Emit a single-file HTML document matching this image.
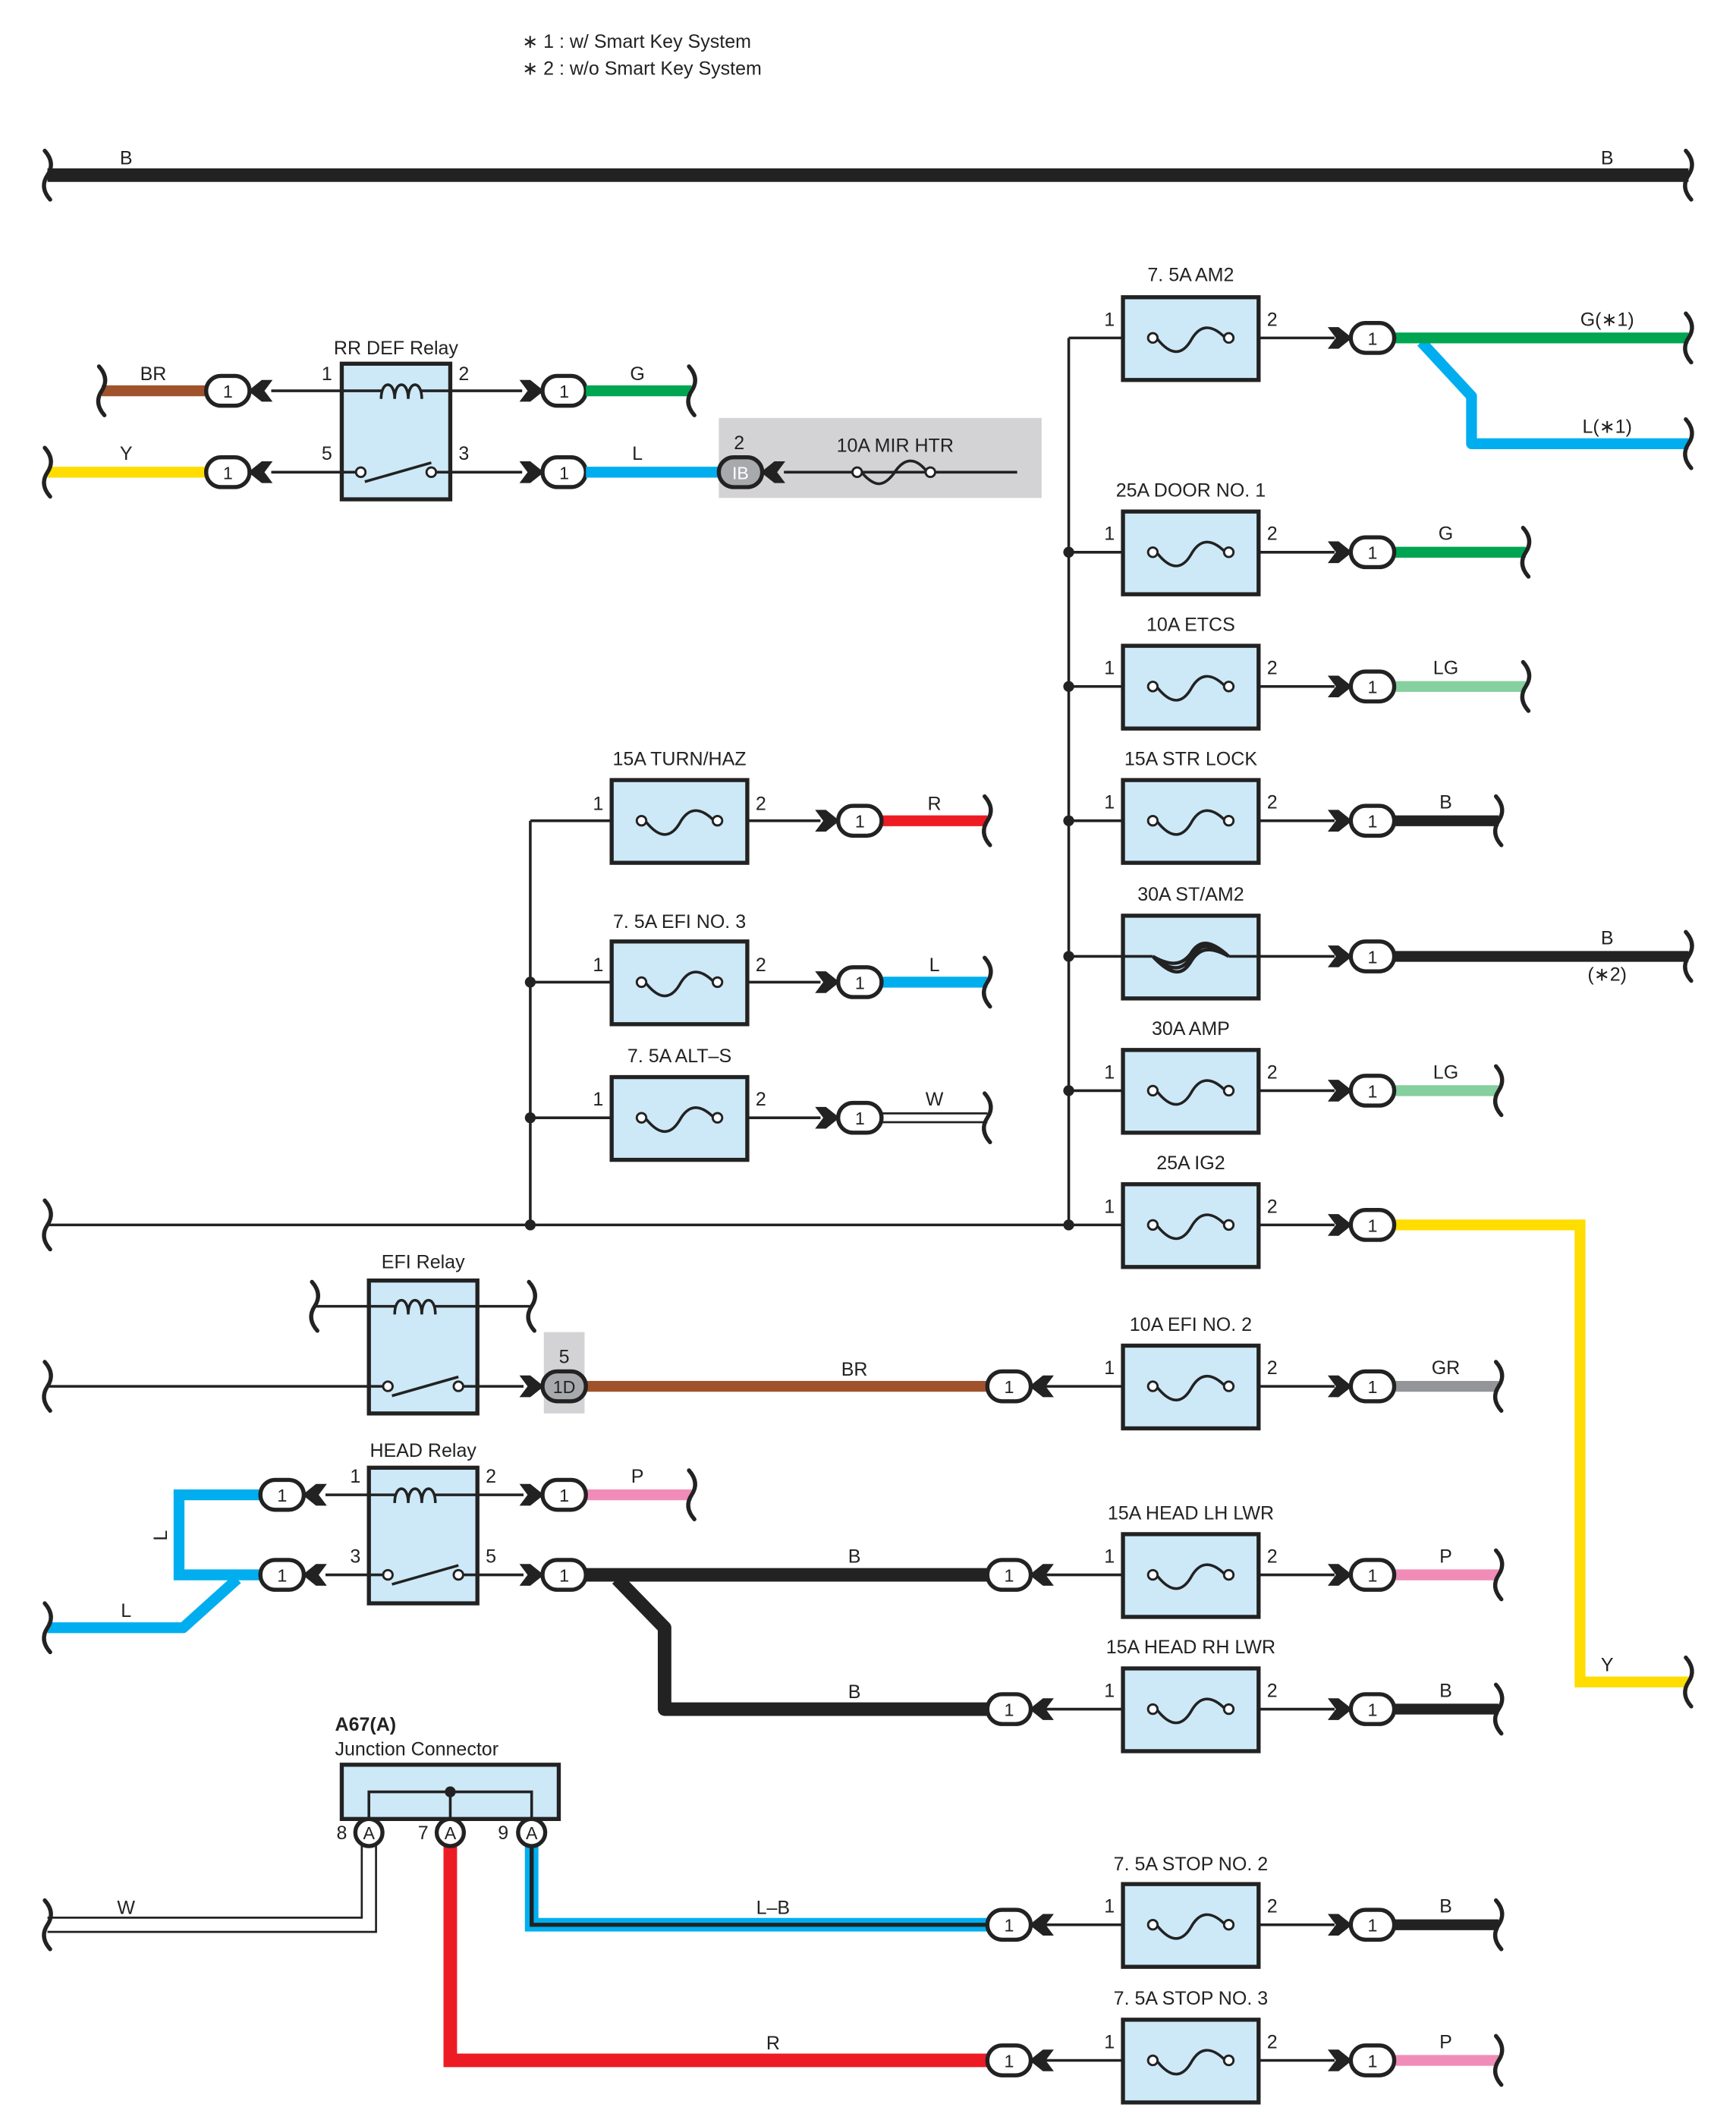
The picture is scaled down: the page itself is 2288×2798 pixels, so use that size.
<!DOCTYPE html>
<html><head><meta charset="utf-8"><style>
html,body{margin:0;padding:0;background:#fff}
svg{display:block}
text{font-family:"Liberation Sans",sans-serif;font-size:14px;fill:#222}
.c{text-anchor:middle}
.o{font-size:13px;text-anchor:middle}
</style></head><body>
<svg width="2288" height="2798" viewBox="0 0 1280 1565" xmlns="http://www.w3.org/2000/svg">
<defs>
<g id="fz"><rect x="0" y="-30" width="100" height="61" fill="#cde9f8" stroke="#222" stroke-width="3"/><circle cx="22" cy="0" r="3.5" fill="#fff" stroke="#222" stroke-width="1.6"/><circle cx="78" cy="0" r="3.5" fill="#fff" stroke="#222" stroke-width="1.6"/><path d="M25.5 1 C36 14,44 12,50 2 C56 -9,64 -11,74.5 -1" fill="none" stroke="#222" stroke-width="2"/></g>
<polygon id="ra" points="-17,-8 -9,-8 1,0 -9,8 -17,8 -11,0" fill="#222"/>
<polygon id="la" points="17,-8 9,-8 -1,0 9,8 17,8 11,0" fill="#222"/>
<rect id="ov" x="-16" y="-11" width="32" height="22" rx="11" fill="#fff" stroke="#222" stroke-width="3"/>
<path id="br" d="M-2,-18 Q6,-9 0,0 Q-6,9 2,18" fill="none" stroke="#222" stroke-width="3" stroke-linecap="round"/>
<circle id="dt" r="4" fill="#222"/>
</defs>

<text x="385" y="35">∗ 1 : w/ Smart Key System</text>
<text x="385" y="55">∗ 2 : w/o Smart Key System</text>

<line x1="35" y1="129" x2="1245" y2="129" stroke="#222" stroke-width="10"/>
<use href="#br" x="35" y="129"/><use href="#br" x="1245" y="129"/>
<text x="93" y="121" class="c">B</text><text x="1185" y="121" class="c">B</text>

<rect x="252" y="268" width="80" height="100" fill="#cde9f8" stroke="#222" stroke-width="3"/>
<text x="292" y="261" class="c">RR DEF Relay</text>
<line x1="200" y1="288" x2="385" y2="288" stroke="#222" stroke-width="2"/>
<path d="M281 294 C281 280,291 280,291 294 C291 280,301 280,301 294 C301 280,311 280,311 294" fill="#cde9f8" stroke="#222" stroke-width="2"/>
<line x1="200" y1="348" x2="266" y2="348" stroke="#222" stroke-width="2"/>
<line x1="318" y1="348" x2="385" y2="348" stroke="#222" stroke-width="2"/>
<line x1="269" y1="355" x2="318" y2="341" stroke="#222" stroke-width="2"/>
<circle cx="266" cy="348" r="3.5" fill="#fff" stroke="#222" stroke-width="1.6"/><circle cx="318" cy="348" r="3.5" fill="#fff" stroke="#222" stroke-width="1.6"/>
<text x="241" y="280" class="c">1</text><text x="342" y="280" class="c">2</text><text x="241" y="339" class="c">5</text><text x="342" y="339" class="c">3</text>
<line x1="75" y1="288" x2="155" y2="288" stroke="#a0522d" stroke-width="8"/><use href="#br" x="75" y="288"/>
<line x1="35" y1="348" x2="155" y2="348" stroke="#ffdd00" stroke-width="8"/><use href="#br" x="35" y="348"/>
<text x="113" y="280" class="c">BR</text><text x="93" y="339" class="c">Y</text>
<use href="#ov" x="168" y="288"/><text x="168" y="293" class="o">1</text><use href="#la" x="184" y="288"/>
<use href="#ov" x="168" y="348"/><text x="168" y="353" class="o">1</text><use href="#la" x="184" y="348"/>
<use href="#ra" x="400" y="288"/><use href="#ov" x="416" y="288"/><text x="416" y="293" class="o">1</text>
<use href="#ra" x="400" y="348"/><use href="#ov" x="416" y="348"/><text x="416" y="353" class="o">1</text>
<line x1="432" y1="288" x2="510" y2="288" stroke="#00a551" stroke-width="8"/><use href="#br" x="510" y="288"/>
<text x="470" y="280" class="c">G</text>
<rect x="530" y="308" width="238" height="59" fill="#d3d3d5"/>
<line x1="432" y1="348" x2="532" y2="348" stroke="#00aeef" stroke-width="8"/>
<text x="470" y="339" class="c">L</text>
<rect x="530" y="337" width="32" height="22" rx="11" fill="#a7a9ac" stroke="#222" stroke-width="3"/><text x="546" y="353" class="o" style="fill:#fff">IB</text>
<use href="#la" x="562" y="348"/>
<line x1="578" y1="348" x2="750" y2="348" stroke="#222" stroke-width="2"/>
<path d="M636 349 C646 360,652 358,659 349 C666 338,674 336,683 347" fill="none" stroke="#222" stroke-width="2"/>
<circle cx="632" cy="348" r="3.5" fill="#fff" stroke="#222" stroke-width="1.6"/><circle cx="686" cy="348" r="3.5" fill="#fff" stroke="#222" stroke-width="1.6"/>
<text x="545" y="331" class="c">2</text><text x="660" y="333" class="c">10A MIR HTR</text>

<line x1="788" y1="249" x2="788" y2="903" stroke="#222" stroke-width="2"/>
<line x1="35" y1="903" x2="828" y2="903" stroke="#222" stroke-width="2"/><use href="#br" x="35" y="903"/>
<use href="#dt" x="788" y="407"/><use href="#dt" x="788" y="506"/><use href="#dt" x="788" y="605"/><use href="#dt" x="788" y="705"/><use href="#dt" x="788" y="804"/><use href="#dt" x="788" y="903"/>
<g stroke="#222" stroke-width="2">
<line x1="788" y1="249" x2="828" y2="249"/><line x1="788" y1="407" x2="828" y2="407"/><line x1="788" y1="506" x2="828" y2="506"/><line x1="788" y1="605" x2="828" y2="605"/><line x1="788" y1="705" x2="828" y2="705"/><line x1="788" y1="804" x2="828" y2="804"/>
<line x1="760" y1="1022" x2="828" y2="1022"/><line x1="760" y1="1161" x2="828" y2="1161"/><line x1="760" y1="1260" x2="828" y2="1260"/><line x1="760" y1="1419" x2="828" y2="1419"/><line x1="760" y1="1519" x2="828" y2="1519"/>
<line x1="928" y1="249" x2="984" y2="249"/><line x1="928" y1="407" x2="984" y2="407"/><line x1="928" y1="506" x2="984" y2="506"/><line x1="928" y1="605" x2="984" y2="605"/><line x1="928" y1="705" x2="984" y2="705"/><line x1="928" y1="804" x2="984" y2="804"/><line x1="928" y1="903" x2="984" y2="903"/><line x1="928" y1="1022" x2="984" y2="1022"/><line x1="928" y1="1161" x2="984" y2="1161"/><line x1="928" y1="1260" x2="984" y2="1260"/><line x1="928" y1="1419" x2="984" y2="1419"/><line x1="928" y1="1519" x2="984" y2="1519"/>
</g>
<use href="#fz" x="828" y="249"/><use href="#fz" x="828" y="407"/><use href="#fz" x="828" y="506"/><use href="#fz" x="828" y="605"/>
<g transform="translate(828,705)"><rect x="0" y="-30" width="100" height="61" fill="#cde9f8" stroke="#222" stroke-width="3"/><path d="M22 0 C36 12,44 10,50 1 C56 -9,64 -11,78 0 M22 0 C36 8,44 6,50 -2 C56 -12,64 -13,78 0 M22 0 C36 15,44 14,50 4 C56 -6,64 -8,78 0" fill="none" stroke="#222" stroke-width="2.5"/><line x1="0" y1="0" x2="22" y2="0" stroke="#222" stroke-width="2"/><line x1="78" y1="0" x2="100" y2="0" stroke="#222" stroke-width="2"/></g>
<use href="#fz" x="828" y="804"/><use href="#fz" x="828" y="903"/><use href="#fz" x="828" y="1022"/><use href="#fz" x="828" y="1161"/><use href="#fz" x="828" y="1260"/><use href="#fz" x="828" y="1419"/><use href="#fz" x="828" y="1519"/>
<g class="c">
<text x="878" y="207" class="c">7. 5A AM2</text><text x="878" y="366" class="c">25A DOOR NO. 1</text><text x="878" y="465" class="c">10A ETCS</text><text x="878" y="564" class="c">15A STR LOCK</text><text x="878" y="664" class="c">30A ST/AM2</text><text x="878" y="763" class="c">30A AMP</text><text x="878" y="862" class="c">25A IG2</text><text x="878" y="981" class="c">10A EFI NO. 2</text><text x="878" y="1120" class="c">15A HEAD LH LWR</text><text x="878" y="1219" class="c">15A HEAD RH LWR</text><text x="878" y="1379" class="c">7. 5A STOP NO. 2</text><text x="878" y="1478" class="c">7. 5A STOP NO. 3</text>
</g>
<g>
<text x="818" y="240" class="c">1</text><text x="938" y="240" class="c">2</text>
<text x="818" y="398" class="c">1</text><text x="938" y="398" class="c">2</text>
<text x="818" y="497" class="c">1</text><text x="938" y="497" class="c">2</text>
<text x="818" y="596" class="c">1</text><text x="938" y="596" class="c">2</text>
<text x="818" y="795" class="c">1</text><text x="938" y="795" class="c">2</text>
<text x="818" y="894" class="c">1</text><text x="938" y="894" class="c">2</text>
<text x="818" y="1013" class="c">1</text><text x="938" y="1013" class="c">2</text>
<text x="818" y="1152" class="c">1</text><text x="938" y="1152" class="c">2</text>
<text x="818" y="1251" class="c">1</text><text x="938" y="1251" class="c">2</text>
<text x="818" y="1410" class="c">1</text><text x="938" y="1410" class="c">2</text>
<text x="818" y="1510" class="c">1</text><text x="938" y="1510" class="c">2</text>
</g>
<path d="M1048 252 L1085 292 L1085 327 L1245 327" fill="none" stroke="#00aeef" stroke-width="8" stroke-linejoin="round"/>
<line x1="1028" y1="249" x2="1245" y2="249" stroke="#00a551" stroke-width="8"/>
<line x1="1028" y1="407" x2="1125" y2="407" stroke="#00a551" stroke-width="8"/>
<line x1="1028" y1="506" x2="1125" y2="506" stroke="#86cf9e" stroke-width="8"/>
<line x1="1028" y1="605" x2="1105" y2="605" stroke="#222" stroke-width="8"/>
<line x1="1028" y1="705" x2="1245" y2="705" stroke="#222" stroke-width="8"/>
<line x1="1028" y1="804" x2="1105" y2="804" stroke="#86cf9e" stroke-width="8"/>
<path d="M1028 903 L1165 903 L1165 1240 L1245 1240" fill="none" stroke="#ffdd00" stroke-width="8"/>
<line x1="1028" y1="1022" x2="1105" y2="1022" stroke="#939598" stroke-width="8"/>
<line x1="1028" y1="1161" x2="1105" y2="1161" stroke="#f08cb7" stroke-width="8"/>
<line x1="1028" y1="1260" x2="1105" y2="1260" stroke="#222" stroke-width="8"/>
<line x1="1028" y1="1419" x2="1105" y2="1419" stroke="#222" stroke-width="8"/>
<line x1="1028" y1="1519" x2="1105" y2="1519" stroke="#f08cb7" stroke-width="8"/>
<use href="#br" x="1245" y="249"/><use href="#br" x="1245" y="327"/><use href="#br" x="1125" y="407"/><use href="#br" x="1125" y="506"/><use href="#br" x="1105" y="605"/><use href="#br" x="1245" y="705"/><use href="#br" x="1105" y="804"/><use href="#br" x="1245" y="1240"/><use href="#br" x="1105" y="1022"/><use href="#br" x="1105" y="1161"/><use href="#br" x="1105" y="1260"/><use href="#br" x="1105" y="1419"/><use href="#br" x="1105" y="1519"/>
<text x="1185" y="240" class="c">G(∗1)</text><text x="1185" y="319" class="c">L(∗1)</text>
<text x="1066" y="398" class="c">G</text><text x="1066" y="497" class="c">LG</text><text x="1066" y="596" class="c">B</text>
<text x="1185" y="696" class="c">B</text><text x="1185" y="723" class="c">(∗2)</text>
<text x="1066" y="795" class="c">LG</text><text x="1185" y="1232" class="c">Y</text>
<text x="1066" y="1013" class="c">GR</text><text x="1066" y="1152" class="c">P</text><text x="1066" y="1251" class="c">B</text><text x="1066" y="1410" class="c">B</text><text x="1066" y="1510" class="c">P</text>
<g>
<use href="#ra" x="996" y="249"/><use href="#ov" x="1012" y="249"/><text x="1012" y="254" class="o">1</text>
<use href="#ra" x="996" y="407"/><use href="#ov" x="1012" y="407"/><text x="1012" y="412" class="o">1</text>
<use href="#ra" x="996" y="506"/><use href="#ov" x="1012" y="506"/><text x="1012" y="511" class="o">1</text>
<use href="#ra" x="996" y="605"/><use href="#ov" x="1012" y="605"/><text x="1012" y="610" class="o">1</text>
<use href="#ra" x="996" y="705"/><use href="#ov" x="1012" y="705"/><text x="1012" y="710" class="o">1</text>
<use href="#ra" x="996" y="804"/><use href="#ov" x="1012" y="804"/><text x="1012" y="809" class="o">1</text>
<use href="#ra" x="996" y="903"/><use href="#ov" x="1012" y="903"/><text x="1012" y="908" class="o">1</text>
<use href="#ra" x="996" y="1022"/><use href="#ov" x="1012" y="1022"/><text x="1012" y="1027" class="o">1</text>
<use href="#ra" x="996" y="1161"/><use href="#ov" x="1012" y="1161"/><text x="1012" y="1166" class="o">1</text>
<use href="#ra" x="996" y="1260"/><use href="#ov" x="1012" y="1260"/><text x="1012" y="1265" class="o">1</text>
<use href="#ra" x="996" y="1419"/><use href="#ov" x="1012" y="1419"/><text x="1012" y="1424" class="o">1</text>
<use href="#ra" x="996" y="1519"/><use href="#ov" x="1012" y="1519"/><text x="1012" y="1524" class="o">1</text>
</g>

<line x1="391" y1="605" x2="391" y2="903" stroke="#222" stroke-width="2"/>
<use href="#dt" x="391" y="724"/><use href="#dt" x="391" y="824"/><use href="#dt" x="391" y="903"/>
<g stroke="#222" stroke-width="2">
<line x1="391" y1="605" x2="451" y2="605"/><line x1="391" y1="724" x2="451" y2="724"/><line x1="391" y1="824" x2="451" y2="824"/>
<line x1="551" y1="605" x2="605" y2="605"/><line x1="551" y1="724" x2="605" y2="724"/><line x1="551" y1="824" x2="605" y2="824"/>
</g>
<use href="#fz" x="451" y="605"/><use href="#fz" x="451" y="724"/><use href="#fz" x="451" y="824"/>
<text x="501" y="564" class="c">15A TURN/HAZ</text><text x="501" y="684" class="c">7. 5A EFI NO. 3</text><text x="501" y="783" class="c">7. 5A ALT–S</text>
<text x="441" y="597" class="c">1</text><text x="561" y="597" class="c">2</text>
<text x="441" y="716" class="c">1</text><text x="561" y="716" class="c">2</text>
<text x="441" y="815" class="c">1</text><text x="561" y="815" class="c">2</text>
<line x1="650" y1="605" x2="728" y2="605" stroke="#ed1c24" stroke-width="8"/>
<line x1="650" y1="724" x2="728" y2="724" stroke="#00aeef" stroke-width="8"/>
<line x1="650" y1="824" x2="728" y2="824" stroke="#222" stroke-width="8"/><line x1="650" y1="824" x2="728" y2="824" stroke="#fff" stroke-width="5"/>
<use href="#br" x="728" y="605"/><use href="#br" x="728" y="724"/><use href="#br" x="728" y="824"/>
<text x="689" y="597" class="c">R</text><text x="689" y="716" class="c">L</text><text x="689" y="815" class="c">W</text>
<use href="#ra" x="618" y="605"/><use href="#ov" x="634" y="605"/><text x="634" y="610" class="o">1</text>
<use href="#ra" x="618" y="724"/><use href="#ov" x="634" y="724"/><text x="634" y="729" class="o">1</text>
<use href="#ra" x="618" y="824"/><use href="#ov" x="634" y="824"/><text x="634" y="829" class="o">1</text>

<line x1="232" y1="963" x2="392" y2="963" stroke="#222" stroke-width="2"/>
<use href="#br" x="232" y="963"/><use href="#br" x="392" y="963"/>
<rect x="272" y="944" width="80" height="98" fill="#cde9f8" stroke="#222" stroke-width="3"/>
<line x1="272" y1="963" x2="352" y2="963" stroke="#222" stroke-width="2"/>
<path d="M291 969 C291 955,301 955,301 969 C301 955,311 955,311 969 C311 955,321 955,321 969" fill="#cde9f8" stroke="#222" stroke-width="2"/>
<text x="312" y="935" class="c">EFI Relay</text>
<line x1="35" y1="1022" x2="286" y2="1022" stroke="#222" stroke-width="2"/><use href="#br" x="35" y="1022"/>
<line x1="338" y1="1022" x2="386" y2="1022" stroke="#222" stroke-width="2"/>
<line x1="289" y1="1029" x2="338" y2="1015" stroke="#222" stroke-width="2"/>
<circle cx="286" cy="1022" r="3.5" fill="#fff" stroke="#222" stroke-width="1.6"/><circle cx="338" cy="1022" r="3.5" fill="#fff" stroke="#222" stroke-width="1.6"/>
<rect x="401" y="982" width="30" height="60" fill="#d3d3d5"/>
<text x="416" y="1005" class="c">5</text>
<line x1="430" y1="1022" x2="728" y2="1022" stroke="#a0522d" stroke-width="8"/>
<text x="630" y="1014" class="c">BR</text>
<use href="#ra" x="400" y="1022"/><rect x="400" y="1011" width="32" height="22" rx="11" fill="#a7a9ac" stroke="#222" stroke-width="3"/><text x="416" y="1027" class="o">1D</text>
<use href="#ov" x="744" y="1022"/><text x="744" y="1027" class="o">1</text><use href="#la" x="760" y="1022"/>

<path d="M192 1102 L132 1102 L132 1161 L192 1161" fill="none" stroke="#00aeef" stroke-width="8"/>
<path d="M175 1164 L135 1200 L35 1200" fill="none" stroke="#00aeef" stroke-width="8" stroke-linejoin="round"/>
<use href="#br" x="35" y="1200"/>
<text x="93" y="1192" class="c">L</text>
<text x="0" y="0" class="c" transform="translate(123,1132) rotate(-90)">L</text>
<line x1="240" y1="1102" x2="272" y2="1102" stroke="#222" stroke-width="2"/>
<line x1="240" y1="1161" x2="272" y2="1161" stroke="#222" stroke-width="2"/>
<use href="#ov" x="208" y="1102"/><text x="208" y="1107" class="o">1</text><use href="#la" x="224" y="1102"/>
<use href="#ov" x="208" y="1161"/><text x="208" y="1166" class="o">1</text><use href="#la" x="224" y="1161"/>
<rect x="272" y="1082" width="80" height="100" fill="#cde9f8" stroke="#222" stroke-width="3"/>
<text x="312" y="1074" class="c">HEAD Relay</text>
<line x1="272" y1="1102" x2="386" y2="1102" stroke="#222" stroke-width="2"/>
<path d="M291 1108 C291 1094,301 1094,301 1108 C301 1094,311 1094,311 1108 C311 1094,321 1094,321 1108" fill="#cde9f8" stroke="#222" stroke-width="2"/>
<line x1="272" y1="1161" x2="286" y2="1161" stroke="#222" stroke-width="2"/>
<line x1="338" y1="1161" x2="386" y2="1161" stroke="#222" stroke-width="2"/>
<line x1="289" y1="1168" x2="338" y2="1154" stroke="#222" stroke-width="2"/>
<circle cx="286" cy="1161" r="3.5" fill="#fff" stroke="#222" stroke-width="1.6"/><circle cx="338" cy="1161" r="3.5" fill="#fff" stroke="#222" stroke-width="1.6"/>
<text x="262" y="1093" class="c">1</text><text x="362" y="1093" class="c">2</text><text x="262" y="1152" class="c">3</text><text x="362" y="1152" class="c">5</text>
<line x1="432" y1="1102" x2="510" y2="1102" stroke="#f08cb7" stroke-width="8"/><use href="#br" x="510" y="1102"/>
<text x="470" y="1093" class="c">P</text>
<path d="M455 1164 L490 1200 L490 1260 L728 1260" fill="none" stroke="#222" stroke-width="10" stroke-linejoin="round"/>
<line x1="432" y1="1161" x2="728" y2="1161" stroke="#222" stroke-width="10"/>
<text x="630" y="1152" class="c">B</text><text x="630" y="1252" class="c">B</text>
<use href="#ra" x="400" y="1102"/><use href="#ov" x="416" y="1102"/><text x="416" y="1107" class="o">1</text>
<use href="#ra" x="400" y="1161"/><use href="#ov" x="416" y="1161"/><text x="416" y="1166" class="o">1</text>
<use href="#ov" x="744" y="1161"/><text x="744" y="1166" class="o">1</text><use href="#la" x="760" y="1161"/>
<use href="#ov" x="744" y="1260"/><text x="744" y="1265" class="o">1</text><use href="#la" x="760" y="1260"/>

<text x="247" y="1276" style="font-weight:bold">A67(A)</text>
<text x="247" y="1294">Junction Connector</text>
<path d="M272 1360 L272 1419 L35 1419" fill="none" stroke="#222" stroke-width="12"/>
<path d="M272 1360 L272 1419 L35 1419" fill="none" stroke="#fff" stroke-width="9"/>
<use href="#br" x="35" y="1419"/>
<text x="93" y="1411" class="c">W</text>
<path d="M332 1360 L332 1519 L728 1519" fill="none" stroke="#ed1c24" stroke-width="10"/>
<text x="570" y="1511" class="c">R</text>
<path d="M392 1360 L392 1419 L728 1419" fill="none" stroke="#00aeef" stroke-width="10"/>
<path d="M392 1360 L392 1419 L728 1419" fill="none" stroke="#222" stroke-width="3"/>
<text x="570" y="1411" class="c">L–B</text>
<rect x="252" y="1301" width="160" height="40" fill="#cde9f8" stroke="#222" stroke-width="3"/>
<path d="M272 1341 L272 1321 L392 1321 L392 1341 M332 1321 L332 1341" fill="none" stroke="#222" stroke-width="2"/>
<use href="#dt" x="332" y="1321"/>
<circle cx="272" cy="1351" r="10" fill="#fff" stroke="#222" stroke-width="3"/><text x="272" y="1356" class="o">A</text>
<circle cx="332" cy="1351" r="10" fill="#fff" stroke="#222" stroke-width="3"/><text x="332" y="1356" class="o">A</text>
<circle cx="392" cy="1351" r="10" fill="#fff" stroke="#222" stroke-width="3"/><text x="392" y="1356" class="o">A</text>
<text x="252" y="1356" class="c">8</text><text x="312" y="1356" class="c">7</text><text x="371" y="1356" class="c">9</text>
<use href="#ov" x="744" y="1419"/><text x="744" y="1424" class="o">1</text><use href="#la" x="760" y="1419"/>
<use href="#ov" x="744" y="1519"/><text x="744" y="1524" class="o">1</text><use href="#la" x="760" y="1519"/>
</svg>
</body></html>
